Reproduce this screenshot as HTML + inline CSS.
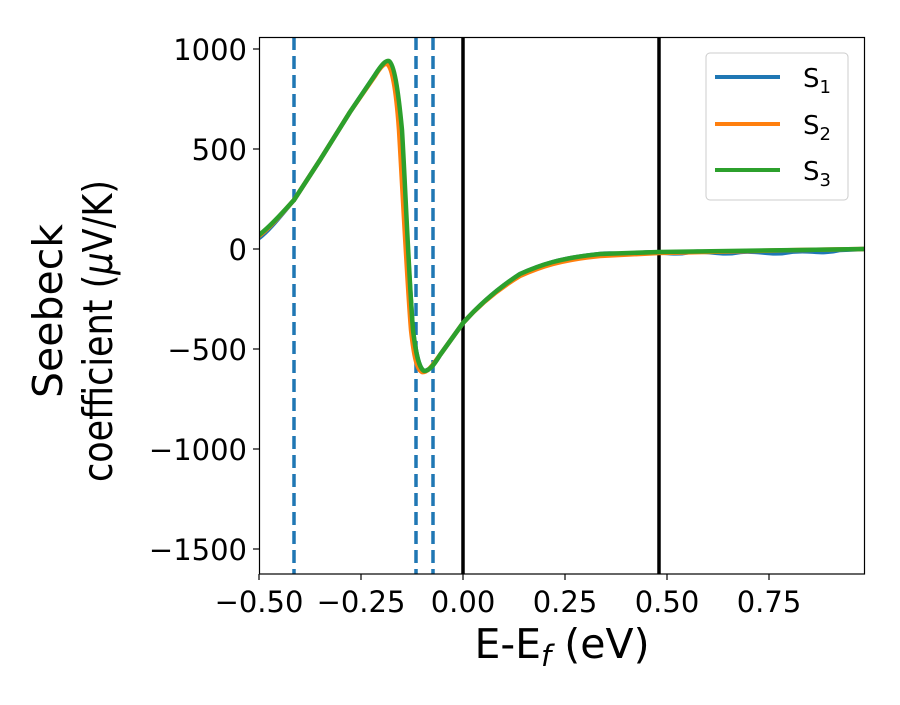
<!DOCTYPE html>
<html><head><meta charset="utf-8"><style>body{margin:0;background:#fff}</style></head><body>
<svg width="900" height="700" xmlns="http://www.w3.org/2000/svg" font-family="'DejaVu Sans','Liberation Sans',sans-serif">
<rect width="900" height="700" fill="#fff"/>
<defs><clipPath id="c"><rect x="259" y="37" width="605" height="537"/></clipPath></defs>
<g clip-path="url(#c)">
<g stroke="#1f77b4" stroke-width="3.5" stroke-dasharray="13,6">
<line x1="294" y1="37" x2="294" y2="574"/><line x1="416" y1="37" x2="416" y2="574"/><line x1="433" y1="37" x2="433" y2="574"/>
</g>
<g stroke="#000" stroke-width="3.5"><line x1="463" y1="37" x2="463" y2="574"/><line x1="659" y1="37" x2="659" y2="574"/></g>
<g fill="none" stroke-width="4.5" stroke-linejoin="round">
<path stroke="#1f77b4" d="M259,238 C270,230 285,210 294,200 L320,160 L350,112 L375,75 C382,64 386,61 389,62 C394,66 398,88 401,130 C404,180 409,280 413,330 C416,355 419,368 424,371 C430,371 435,363 440,355 L463,323 C480,304 500,287 520,274 C540,265 560,258 600,254 C615,252 625,256 640,253 C660,250 670,256 690,252 C710,250 720,256 740,252 C760,250 770,256 790,252 C810,249 820,255 840,250 L864,249"/>
<path stroke="#ff7f0e" d="M259,236 C270,228 285,210 294,200 L320,160 L350,112 L375,76 C381,66 385,63 387,64 C392,67 396,88 399,130 C402,180 407,280 411,330 C414,357 417,370 422,372 C428,373 433,364 440,355 L463,323 C480,304 500,288 520,276 C540,267 560,260 600,256 L659,253 L800,250 L864,249"/>
<path stroke="#2ca02c" d="M259,235 C270,227 285,210 294,200 L320,160 L350,112 L375,75 C382,64 386,60 389,61 C394,64 398,88 402,130 C405,180 409,280 413,330 C416,355 419,368 424,371 C430,371 435,363 440,355 L463,323 C480,304 500,287 520,274 C540,265 560,258 600,254 L659,252 L800,250 L864,249"/>
</g>
</g>
<rect x="259.5" y="37.5" width="605" height="536.5" fill="none" stroke="#000" stroke-width="1.2"/>
<g stroke="#000" stroke-width="1.2">
<line x1="253" y1="49" x2="259" y2="49"/><line x1="253" y1="149" x2="259" y2="149"/><line x1="253" y1="249" x2="259" y2="249"/><line x1="253" y1="349" x2="259" y2="349"/><line x1="253" y1="449" x2="259" y2="449"/><line x1="253" y1="549" x2="259" y2="549"/>
<line x1="259" y1="574" x2="259" y2="580"/><line x1="361" y1="574" x2="361" y2="580"/><line x1="463" y1="574" x2="463" y2="580"/><line x1="565" y1="574" x2="565" y2="580"/><line x1="667" y1="574" x2="667" y2="580"/><line x1="769" y1="574" x2="769" y2="580"/>
</g>
<g font-size="29" text-anchor="end" fill="#000">
<text x="247" y="60">1000</text><text x="247" y="160">500</text><text x="247" y="260">0</text><text x="247" y="360">−500</text><text x="247" y="460">−1000</text><text x="247" y="560">−1500</text>
</g>
<g font-size="29" text-anchor="middle" fill="#000">
<text x="259" y="612">−0.50</text><text x="361" y="612">−0.25</text><text x="463" y="612">0.00</text><text x="565" y="612">0.25</text><text x="667" y="612">0.50</text><text x="769" y="612">0.75</text>
</g>
<text x="562" y="658" font-size="41" text-anchor="middle">E-E<tspan font-size="29" font-style="italic" dy="8">f</tspan><tspan dy="-8"> (eV)</tspan></text>
<g font-size="41">
<text text-anchor="middle" transform="translate(62,311) rotate(-90)">Seebeck</text>
<text transform="translate(112,482) rotate(-90)" textLength="302" lengthAdjust="spacingAndGlyphs">coefficient  (<tspan font-style="italic">μ</tspan>V/K)</text>
</g>
<rect x="706" y="53" width="142" height="147" rx="4" fill="#fff" stroke="#ccc" stroke-width="1"/>
<g stroke-width="4"><line x1="715" y1="77" x2="780" y2="77" stroke="#1f77b4"/><line x1="715" y1="124" x2="780" y2="124" stroke="#ff7f0e"/><line x1="715" y1="170" x2="780" y2="170" stroke="#2ca02c"/></g>
<g font-size="26">
<text x="803" y="87">S<tspan font-size="18" dy="6">1</tspan></text>
<text x="803" y="134">S<tspan font-size="18" dy="6">2</tspan></text>
<text x="803" y="180">S<tspan font-size="18" dy="6">3</tspan></text>
</g>
</svg>
</body></html>
